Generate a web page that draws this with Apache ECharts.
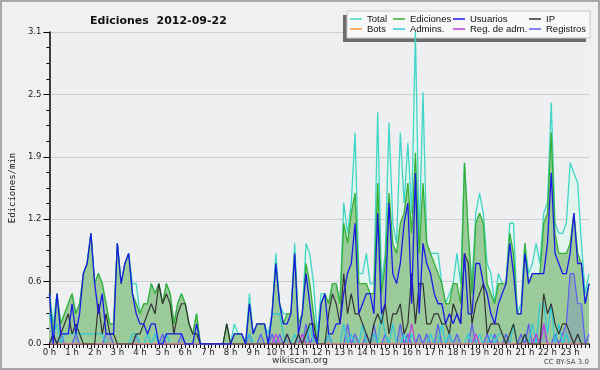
<!DOCTYPE html>
<html><head><meta charset="utf-8">
<script src="https://cdn.jsdelivr.net/npm/echarts@6/dist/echarts.min.js"></script>
<style>html,body{margin:0;padding:0;background:#f0f0f0}#c{width:600px;height:370px}</style>
</head><body><div id="c"></div>
<script>
// 10-minute slots, 0h00 .. 23h50 (values in edits per minute)
const hourLabels = ['0 h','1 h','2 h','3 h','4 h','5 h','6 h','7 h','8 h','9 h','10 h','11 h','12 h','13 h','14 h','15 h','16 h','17 h','18 h','19 h','20 h','21 h','22 h','23 h'];
const yTicks = [0, 0.62, 1.24, 1.86, 2.48, 3.1];

const total = [
 0.5,0.2,0.5,0.2,0.3,0.4, 0.5,0.3,0.4,0.7,0.8,1.1,
 0.6,0.7,0.6,0.4,0.2,0.2, 1.0,0.6,0.8,0.9,0.6,0.6,
 0.3,0.4,0.4,0.6,0.5,0.6, 0.4,0.6,0.5,0.2,0.4,0.5,
 0.4,0.2,0.1,0.3,0,0, 0,0,0,0,0,0.2,
 0,0.2,0.1,0.1,0,0.5, 0.1,0.2,0.2,0.2,0.1,0.3,
 0.9,0.4,0.3,0.3,0.3,1.0, 0.2,0.3,1.0,0.9,0.6,0.1,
 0.5,0.5,0.4,0.6,0.6,0.4, 1.4,1.1,1.4,2.1,0.7,0.7,
 0.9,0.6,0.6,2.3,0.6,0.9, 2.2,1.2,1.0,2.1,1.4,2.0,
 1.3,3.1,1.0,2.5,1.0,0.9, 0.9,0.9,0.6,0.4,0.5,0.6,
 0.9,0.6,1.8,1.1,0.6,1.3, 1.5,1.3,0.8,0.7,0.4,0.7,
 0.6,0.6,1.2,1.2,0.3,0.4, 1.0,0.7,0.8,1.0,0.8,1.3,
 1.4,2.4,1.2,1.1,1.1,1.2, 1.8,1.7,1.6,1.0,0.5,0.7
];
const ediciones = [
 0.5,0.1,0.5,0.2,0.3,0.4, 0.5,0.3,0.4,0.7,0.8,1.1,
 0.6,0.7,0.6,0.4,0.2,0.2, 1.0,0.6,0.8,0.9,0.5,0.4,
 0.3,0.4,0.4,0.6,0.5,0.6, 0.4,0.6,0.5,0.2,0.4,0.5,
 0.4,0.2,0.1,0.3,0,0, 0,0,0,0,0,0.2,
 0,0.1,0.1,0.1,0,0.4, 0.1,0.2,0.2,0.2,0,0.3,
 0.8,0.4,0.2,0.3,0.3,0.9, 0.2,0.3,0.8,0.6,0.3,0,
 0.4,0.5,0.4,0.6,0.6,0.4, 1.2,1.0,1.3,1.5,0.6,0.6,
 0.6,0.5,0.5,1.6,0.5,0.8, 1.5,1.0,0.9,1.2,1.3,1.6,
 1.1,1.9,0.9,1.6,1.0,0.9, 0.8,0.7,0.6,0.4,0.4,0.6,
 0.6,0.4,1.8,1.1,0.5,1.2, 1.3,1.2,0.6,0.5,0.4,0.6,
 0.6,0.6,1.1,0.9,0.3,0.3, 1.0,0.6,0.7,0.7,0.7,1.2,
 1.3,2.1,1.1,0.9,0.9,0.9, 1.0,1.3,0.9,0.8,0.4,0.6
];
const usuarios = [
 0.5,0,0.5,0.1,0.1,0.1, 0.4,0.1,0.3,0.7,0.8,1.1,
 0.6,0.3,0.5,0.1,0.1,0.1, 1.0,0.6,0.8,0.9,0.5,0.3,
 0.2,0.2,0.1,0.2,0.2,0, 0,0.1,0.1,0.1,0.1,0.1,
 0,0,0,0.2,0,0, 0,0,0,0,0,0,
 0,0.1,0.1,0.1,0,0.4, 0.1,0.2,0.2,0.2,0,0.3,
 0.8,0.4,0.2,0.2,0.3,0.9, 0.1,0.3,0.7,0.4,0.1,0,
 0.4,0.5,0.1,0.1,0.2,0.2, 0.5,0.7,0.8,1.2,0.3,0.4,
 0.5,0.5,0.3,1.3,0.3,0.4, 1.4,0.7,0.6,0.8,1.2,1.4,
 0.4,1.7,0.3,1.0,0.8,0.7, 0.5,0.4,0.4,0.2,0.3,0.2,
 0.3,0.2,0.9,0.3,0.3,0.8, 0.8,0.6,0.5,0.3,0.2,0.4,
 0.5,0.6,1.0,0.7,0.3,0.3, 0.9,0.6,0.7,0.7,0.7,0.7,
 1.0,1.7,0.9,0.8,0.7,0.7, 0.9,1.3,0.8,0.8,0.4,0.6
];
const ip = [
 0,0.1,0,0.1,0.2,0.3, 0.1,0.2,0.1,0,0,0,
 0,0.4,0.1,0.3,0.1,0.1, 0,0,0,0,0,0.1,
 0.1,0.2,0.3,0.4,0.3,0.6, 0.4,0.5,0.4,0.1,0.3,0.4,
 0.4,0.2,0.1,0.1,0,0, 0,0,0,0,0,0.2,
 0,0,0,0,0,0, 0,0,0,0,0,0,
 0,0,0,0.1,0,0, 0.1,0,0.1,0.2,0.2,0,
 0,0,0.3,0.5,0.4,0.2, 0.7,0.3,0.5,0.3,0.3,0.2,
 0.1,0,0.2,0.3,0.2,0.4, 0.1,0.3,0.3,0.4,0.1,0.2,
 0.7,0.2,0.6,0.6,0.2,0.2, 0.3,0.3,0.2,0.2,0.1,0.4,
 0.3,0.2,0.9,0.8,0.2,0.4, 0.5,0.6,0.1,0.2,0.2,0.2,
 0.1,0,0.1,0.2,0,0, 0.1,0,0,0,0,0.5,
 0.3,0.4,0.2,0.1,0.2,0.2, 0.1,0,0.1,0,0,0
];
const bots = [
 0,0,0,0,0,0,0,0,0,0,0,0, 0,0,0,0,0,0,0,0,0,0,0,0,
 0,0,0,0,0,0,0,0,0,0,0,0, 0,0,0,0,0,0,0,0,0,0,0,0,
 0,0,0,0,0,0,0,0,0,0,0,0, 0,0,0,0,0,0,0,0,0,0,0,0,
 0,0,0,0,0,0,0,0,0,0,0,0, 0,0,0,0,0,0,0,0,0,0,0,0,
 0,0,0,0,0,0,0,0,0,0,0,0, 0,0,0,0,0,0,0,0,0,0,0,0,
 0,0,0,0,0,0,0,0,0,0,0,0, 0,0,0,0,0,0,0,0,0,0,0,0
];
const admins = [
 0.3,0.1,0.2,0,0.1,0.1, 0.1,0.1,0.1,0.1,0.1,0.1,
 0.1,0.1,0.1,0,0,0, 0,0,0,0,0.1,0.1,
 0,0,0.1,0,0.1,0, 0,0.1,0,0,0,0,
 0,0,0,0,0,0, 0,0,0,0,0,0,
 0,0,0,0,0,0.1, 0,0,0,0,0,0.3,
 0.3,0.3,0.1,0,0,0.1, 0,0,0,0.2,0,0,
 0,0,0.1,0,0,0, 0.2,0,0.1,0,0,0.2,
 0,0,0.1,0,0.3,0.1, 0,0.2,0,0,0.1,0,
 0.1,0,0,0,0,0.1, 0,0,0.2,0,0.1,0,
 0,0,0,0.1,0,0, 0.1,0,0,0.1,0,0.1,
 0.1,0,0,0.2,0,0, 0.1,0,0.2,0,0.4,0.4,
 0.1,0.4,0,0.2,0,0.1, 0,0,0,0,0,0
];
const regAdm = [
 0,0,0,0,0,0,0,0,0,0,0,0, 0,0,0,0,0,0,0,0,0,0,0,0,
 0,0,0,0,0,0,0,0,0,0,0,0, 0,0,0,0,0,0,0,0,0,0,0,0,
 0,0,0,0,0,0,0,0,0,0,0,0, 0.1,0,0,0,0,0,0,0.1,0,0,0,0,
 0,0,0,0,0,0,0,0,0,0,0,0, 0,0,0,0,0,0,0,0,0,0,0,0,
 0.2,0,0,0,0,0,0,0,0,0,0,0, 0,0,0,0,0,0.1,0,0,0,0,0,0,
 0,0,0,0,0,0,0,0,0,0.1,0,0.2, 0,0,0,0,0,0,0,0,0,0,0,0
];
const registros = [
 0,0.1,0,0.1,0,0, 0,0.1,0,0,0,0,
 0,0,0,0.1,0.1,0, 0,0,0,0,0,0.1,
 0,0,0,0,0,0, 0.1,0,0,0,0,0.1,
 0,0,0,0,0,0, 0,0,0,0,0,0,
 0,0,0,0,0,0.1, 0,0,0.1,0,0,0.1,
 0,0.1,0,0.1,0,0, 0.1,0,0.2,0,0.1,0,
 0,0,0.1,0,0,0, 0,0.2,0,0.1,0,0,
 0.1,0,0.2,0,0,0.1, 0,0,0,0.2,0,0.1,
 0,0,0.1,0,0.1,0, 0,0.2,0,0,0.1,0,
 0.1,0,0,0,0.2,0, 0,0,0.1,0,0.1,0,
 0,0.1,0,0,0,0.1, 0,0.2,0,0.1,0,0.2,
 0,0,0.1,0,0.1,0.2, 0.7,0.7,0.4,0.4,0,0.1
];

const slots = [];
for (let h = 0; h < 24; h++) for (let m = 0; m < 60; m += 10) slots.push(h + ':' + (m < 10 ? '0' : '') + m);

const chart = echarts.init(document.getElementById('c'), null, {renderer: 'canvas'});
const lbl = {fontFamily: 'Liberation Sans', fontSize: 9.5, color: '#111'};
function line(name, data, color, width, z, area) {
  const s = {name, type: 'line', data, showSymbol: false, symbol: 'none', z,
    lineStyle: {color, width}, itemStyle: {color}, emphasis: {disabled: true}};
  if (area) s.areaStyle = {color: area, opacity: 1};
  return s;
}
function leg(names, left) {
  return {data: names, left, top: 14, orient: 'vertical', icon: 'rect', itemWidth: 12, itemHeight: 1.5,
    itemGap: 0, selectedMode: false, padding: 0, z: 20,
    textStyle: Object.assign({lineHeight: 10}, lbl)};
}
chart.setOption({
  animation: false,
  backgroundColor: '#f0f0f0',
  title: {text: 'Ediciones  2012-09-22', left: 85, top: 11,
    textStyle: {fontFamily: 'DejaVu Sans', fontWeight: 'bold', fontSize: 11, color: '#111'}},
  graphic: [
    {type: 'rect', shape: {x: 1, y: 1, width: 598, height: 368}, style: {fill: null, stroke: '#a8a8a8', lineWidth: 2}, z: 100},
    {type: 'rect', shape: {x: 343, y: 15, width: 243, height: 27}, style: {fill: '#6c6c6c'}, z: 1},
    {type: 'rect', shape: {x: 347, y: 11, width: 243, height: 27}, style: {fill: '#f8f8f8', stroke: '#c8c8c8', lineWidth: 1}, z: 2},
    {type: 'text', x: 300, y: 361, style: {text: 'wikiscan.org', textAlign: 'center', textVerticalAlign: 'middle', font: '9px DejaVu Sans', fill: '#333'}},
    {type: 'text', x: 589, y: 362, style: {text: 'CC BY-SA 3.0', textAlign: 'right', textVerticalAlign: 'middle', font: '7px DejaVu Sans', fill: '#444'}}
  ],
  legend: [
    leg(['Total', 'Bots'], 350),
    leg(['Ediciones', 'Admins.'], 393),
    leg(['Usuarios', 'Reg. de adm.'], 453),
    leg(['IP', 'Registros'], 529)
  ],
  grid: {left: 46, right: 11, top: 32, bottom: 26, show: true, backgroundColor: '#eeeff1', borderWidth: 0},
  xAxis: {
    type: 'category', data: slots, boundaryGap: false,
    axisLine: {lineStyle: {color: '#000', width: 1.5}},
    axisTick: {interval: 0, length: 4, lineStyle: {color: '#000'}},
    axisLabel: {interval: 5, margin: 4, fontFamily: 'DejaVu Sans', fontSize: 8.5, color: '#222',
      formatter: (v, i) => hourLabels[Math.floor(i / 6)]},
    splitLine: {show: false}
  },
  yAxis: {
    type: 'value', min: yTicks[0], max: yTicks[yTicks.length - 1], interval: yTicks[1] - yTicks[0],
    name: 'Ediciones/min', nameLocation: 'middle', nameGap: 32,
    nameTextStyle: {fontFamily: 'DejaVu Sans Mono', fontSize: 9, color: '#111'},
    axisLine: {show: true, lineStyle: {color: '#000', width: 1.5}},
    axisTick: {show: true, length: 6, lineStyle: {color: '#000'}},
    minorTick: {show: true, splitNumber: 4, length: 3, lineStyle: {color: '#000'}},
    axisLabel: {margin: 8, fontFamily: 'DejaVu Sans', fontSize: 8.5, color: '#222', formatter: v => v.toFixed(1)},
    splitLine: {show: true, lineStyle: {color: '#cdcdcd', width: 1}}
  },
  series: [
    line('Total', total, '#3fd6c6', 1.3, 2, '#e2f4ee'),
    line('Ediciones', ediciones, '#35b035', 1.3, 3, '#9bcb9b'),
    line('Registros', registros, '#5c5cf0', 1.2, 4, 'rgba(90,90,220,0.22)'),
    line('Admins.', admins, '#2cc8dc', 1.2, 5),
    line('Reg. de adm.', regAdm, '#c040d8', 1.2, 6),
    line('Bots', bots, '#ff9a33', 1.2, 6),
    line('IP', ip, '#333333', 1.2, 7),
    line('Usuarios', usuarios, '#1a1ae6', 1.3, 8)
  ]
});
</script></body></html>
